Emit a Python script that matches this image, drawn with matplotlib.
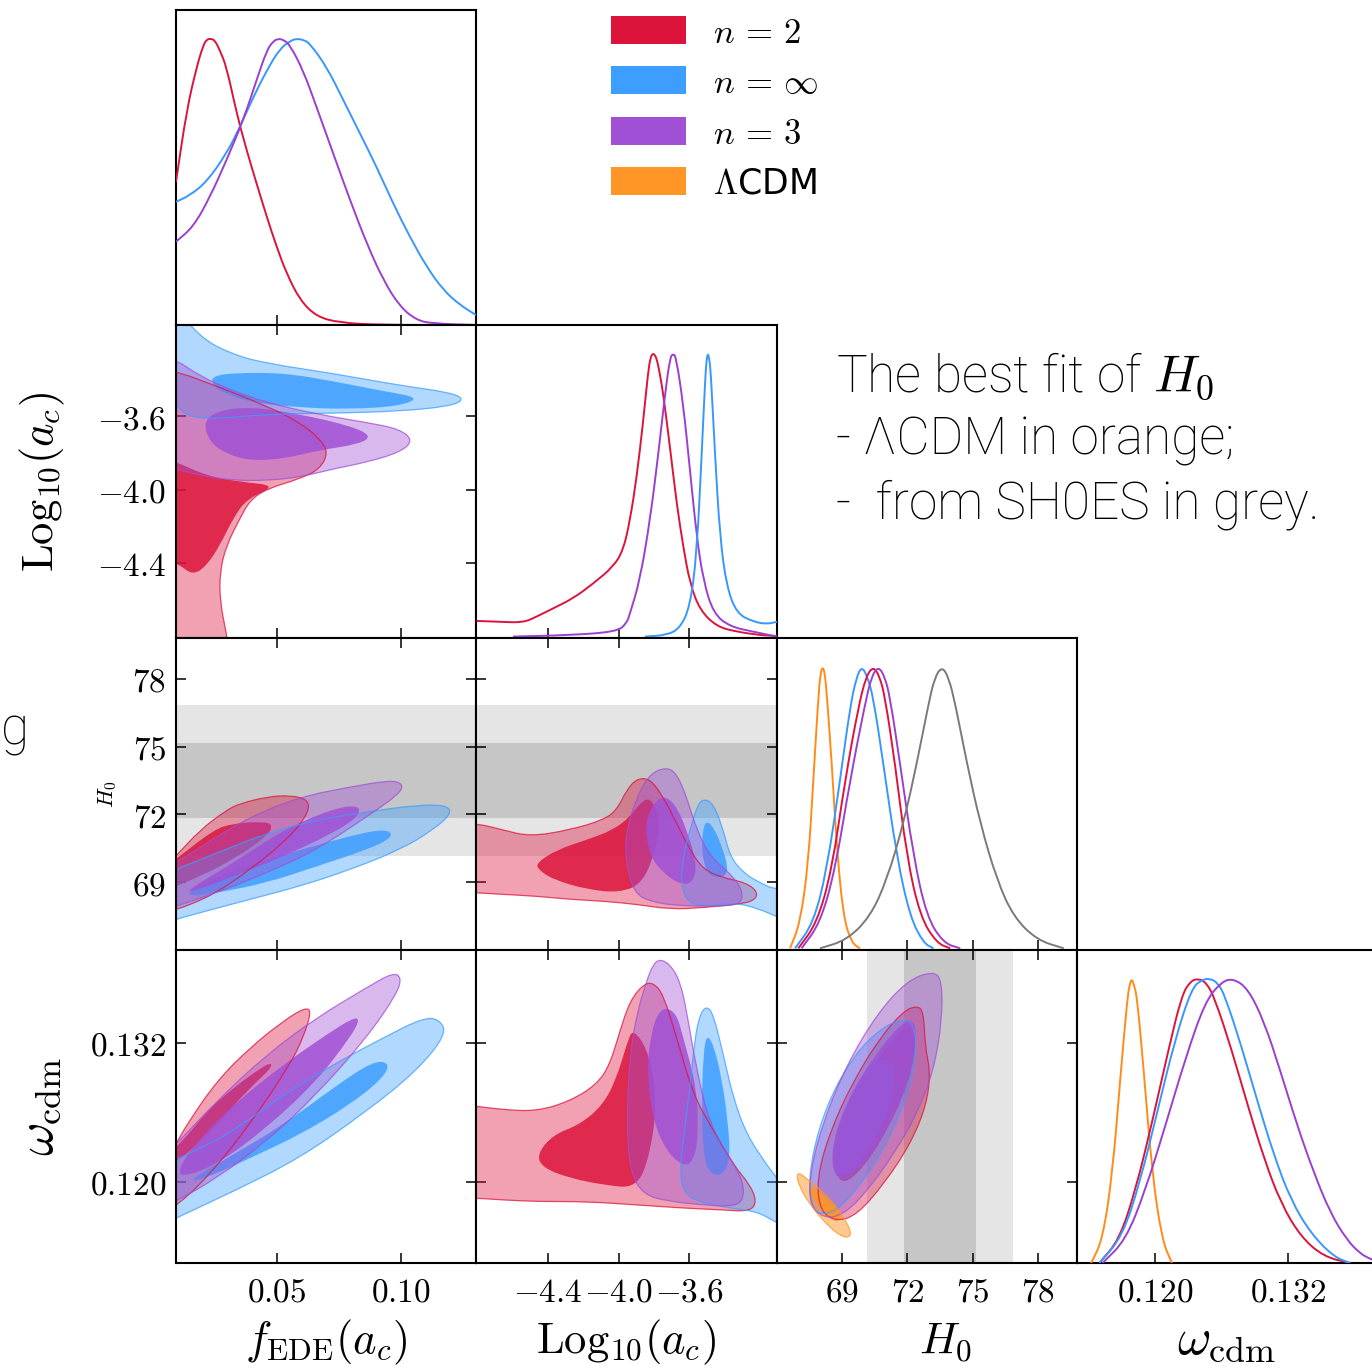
import numpy as np
import matplotlib.pyplot as plt
from matplotlib.path import Path
from matplotlib.patches import PathPatch, Rectangle
from matplotlib.colors import to_rgba

# ------------------------------------------------------------------
# Posterior data: 1D marginals as (x, normalised density) and
# 2D credible regions (95% and 68%) as boundary vertices (x, y)
# ------------------------------------------------------------------
legend_labels = [r'$n\,=\,2$', r'$n\,=\,\infty$', r'$n\,=\,3$', r'$\Lambda$CDM']

# SH0ES measurement
H0_shoes = 73.5
H0_shoes_err = 1.67

# --- 1D: f_EDE(a_c)
fede_n2 = [(0.0094, 0.50), (0.0137, 0.75), (0.0177, 0.90), (0.0204, 0.977), (0.0218, 0.997),
           (0.0234, 1.0), (0.0251, 0.994), (0.0271, 0.959), (0.0298, 0.901), (0.0339, 0.738),
           (0.0379, 0.610), (0.0419, 0.494), (0.0460, 0.378), (0.0500, 0.273), (0.0540, 0.180),
           (0.0594, 0.087), (0.0661, 0.029), (0.0755, 0.008), (0.0917, 0.0), (0.1304, 0.0)]
fede_inf = [(0.0094, 0.430), (0.0150, 0.453), (0.0218, 0.50), (0.0298, 0.599), (0.0352, 0.692),
            (0.0406, 0.796), (0.0460, 0.889), (0.0513, 0.965), (0.0555, 0.992), (0.0581, 1.0),
            (0.0610, 0.995), (0.0634, 0.983), (0.0702, 0.901), (0.0769, 0.785), (0.0836, 0.669),
            (0.0903, 0.552), (0.0970, 0.424), (0.1037, 0.308), (0.1105, 0.203), (0.1172, 0.122),
            (0.1239, 0.070), (0.1304, 0.035)]
fede_n3 = [(0.0094, 0.291), (0.0164, 0.343), (0.0231, 0.447), (0.0298, 0.576), (0.0365, 0.715),
           (0.0419, 0.855), (0.0460, 0.959), (0.0485, 0.990), (0.0506, 1.0), (0.0530, 0.995),
           (0.0554, 0.977), (0.0607, 0.889), (0.0661, 0.761), (0.0728, 0.599), (0.0796, 0.436),
           (0.0863, 0.285), (0.0930, 0.157), (0.0997, 0.064), (0.1064, 0.017), (0.1130, 0.005),
           (0.1304, 0.0)]

# --- 1D: Log10(a_c)
logac_n2 = [(-4.802, 0.060), (-4.671, 0.057), (-4.539, 0.054), (-4.463, 0.075), (-4.370, 0.104),
            (-4.257, 0.139), (-4.144, 0.191), (-4.031, 0.250), (-3.974, 0.308), (-3.936, 0.413),
            (-3.898, 0.565), (-3.861, 0.763), (-3.833, 0.938), (-3.820, 0.985), (-3.808, 1.0),
            (-3.795, 0.995), (-3.782, 0.975), (-3.765, 0.920), (-3.748, 0.857), (-3.710, 0.670),
            (-3.672, 0.471), (-3.635, 0.320), (-3.597, 0.191), (-3.541, 0.098), (-3.446, 0.040),
            (-3.333, 0.022), (-3.200, 0.010), (-3.106, 0.007)]
logac_inf = [(-3.851, 0.005), (-3.729, 0.010), (-3.654, 0.034), (-3.597, 0.110), (-3.559, 0.296),
             (-3.531, 0.646), (-3.512, 0.903), (-3.504, 0.975), (-3.497, 1.0), (-3.489, 0.985),
             (-3.480, 0.938), (-3.456, 0.646), (-3.428, 0.355), (-3.390, 0.180), (-3.333, 0.086),
             (-3.239, 0.057), (-3.164, 0.049), (-3.106, 0.057)]
logac_n3 = [(-4.596, 0.005), (-4.275, 0.010), (-4.011, 0.022), (-3.955, 0.051), (-3.936, 0.086),
            (-3.880, 0.203), (-3.823, 0.413), (-3.776, 0.646), (-3.738, 0.857), (-3.710, 0.985),
            (-3.692, 1.0), (-3.675, 0.985), (-3.635, 0.821), (-3.597, 0.588), (-3.559, 0.355),
            (-3.522, 0.203), (-3.465, 0.086), (-3.371, 0.040), (-3.239, 0.022), (-3.106, 0.005)]

# --- 1D: H0
H0_lcdm = [(66.60, 0.006), (67.06, 0.094), (67.44, 0.305), (67.67, 0.598), (67.90, 0.891),
           (68.00, 0.975), (68.10, 1.0), (68.20, 0.975), (68.29, 0.903), (68.52, 0.657),
           (68.75, 0.363), (69.05, 0.117), (69.44, 0.024), (69.82, 0.006)]
H0_inf = [(66.83, 0.006), (67.67, 0.094), (68.29, 0.281), (68.90, 0.598), (69.36, 0.856),
          (69.65, 0.960), (69.90, 1.0), (70.15, 0.965), (70.43, 0.891), (70.89, 0.657),
          (71.51, 0.328), (72.12, 0.117), (72.74, 0.024), (73.20, 0.006)]
H0_n2 = [(66.98, 0.006), (67.83, 0.094), (68.52, 0.281), (69.13, 0.598), (69.74, 0.856),
         (70.10, 0.965), (70.43, 1.0), (70.72, 0.965), (70.97, 0.891), (71.43, 0.657),
         (71.97, 0.328), (72.59, 0.117), (73.35, 0.024), (73.97, 0.006)]
H0_n3 = [(67.13, 0.006), (67.98, 0.094), (68.67, 0.281), (69.36, 0.598), (70.05, 0.868),
         (70.35, 0.965), (70.66, 1.0), (70.95, 0.965), (71.20, 0.891), (71.66, 0.657),
         (72.28, 0.328), (72.89, 0.117), (73.66, 0.024), (74.43, 0.006)]
H0_sh0es = [(67.98, 0.006), (69.21, 0.035), (70.28, 0.117), (71.05, 0.246), (71.82, 0.446),
            (72.43, 0.657), (72.97, 0.868), (73.25, 0.960), (73.59, 1.0), (73.90, 0.960),
            (74.20, 0.868), (74.74, 0.657), (75.35, 0.446), (76.12, 0.246), (76.88, 0.117),
            (77.96, 0.035), (79.19, 0.006)]

# --- 1D: omega_cdm
wcdm_lcdm = [(0.11427, 0.0), (0.11530, 0.081), (0.11620, 0.317), (0.11694, 0.670), (0.11753, 0.929),
             (0.11772, 0.975), (0.11792, 1.0), (0.11815, 0.975), (0.11842, 0.929), (0.11902, 0.670),
             (0.11976, 0.317), (0.12065, 0.081), (0.12154, 0.0)]
wcdm_n2 = [(0.11501, 0.0), (0.11679, 0.081), (0.11828, 0.258), (0.11976, 0.494), (0.12125, 0.753),
           (0.12243, 0.941), (0.12320, 0.990), (0.12392, 1.0), (0.12465, 0.985), (0.12541, 0.929),
           (0.12689, 0.753), (0.12838, 0.552), (0.12986, 0.364), (0.13134, 0.211), (0.13312, 0.093),
           (0.13521, 0.022), (0.13758, 0.0)]
wcdm_inf = [(0.11501, 0.0), (0.11709, 0.093), (0.11873, 0.293), (0.12021, 0.529), (0.12184, 0.788),
            (0.12332, 0.965), (0.12420, 0.995), (0.12496, 1.0), (0.12565, 0.985), (0.12630, 0.941),
            (0.12778, 0.764), (0.12927, 0.564), (0.13075, 0.376), (0.13223, 0.223), (0.13402, 0.105),
            (0.13610, 0.022), (0.13758, 0.0)]
wcdm_n3 = [(0.11530, 0.0), (0.11739, 0.081), (0.11917, 0.258), (0.12095, 0.482), (0.12274, 0.717),
           (0.12452, 0.918), (0.12600, 0.988), (0.12704, 1.0), (0.12838, 0.965), (0.12986, 0.847),
           (0.13134, 0.670), (0.13283, 0.482), (0.13432, 0.317), (0.13580, 0.176), (0.13729, 0.081),
           (0.13847, 0.034), (0.13925, 0.017), (0.14000, 0.005)]

# --- 2D: f_EDE vs Log10(a_c)
fL_n2_95 = [(0.003, -3.359), (0.0097, -3.357), (0.0258, -3.438), (0.0460, -3.546), (0.0594, -3.635),
            (0.0675, -3.725), (0.0708, -3.797), (0.0675, -3.887), (0.0594, -3.941), (0.0460, -3.995),
            (0.0392, -4.058), (0.0352, -4.156), (0.0298, -4.300), (0.0271, -4.444), (0.0271, -4.605),
            (0.0298, -4.785), (0.0312, -4.911), (0.003, -4.911)]
fL_n2_68 = [(0.005, -3.833), (0.0094, -3.849), (0.0219, -3.925), (0.0352, -3.957), (0.0501, -3.978),
            (0.0380, -4.049), (0.0324, -4.156), (0.0271, -4.302), (0.0219, -4.410), (0.0163, -4.464),
            (0.0110, -4.410), (0.005, -4.372)]
fL_inf_95 = [(0.0070, -2.970), (0.0191, -3.175), (0.0324, -3.267), (0.0461, -3.315), (0.0727, -3.369),
             (0.0997, -3.434), (0.1199, -3.472), (0.1259, -3.509), (0.1199, -3.547), (0.0997, -3.574),
             (0.0727, -3.585), (0.0461, -3.590), (0.0243, -3.617), (0.0138, -3.601), (0.0102, -3.547),
             (0.0070, -3.509)]
fL_inf_68 = [(0.0238, -3.420), (0.0244, -3.384), (0.0325, -3.366), (0.0527, -3.366), (0.0728, -3.411),
             (0.0930, -3.465), (0.1078, -3.500), (0.0997, -3.546), (0.0796, -3.563), (0.0594, -3.554),
             (0.0392, -3.527), (0.0271, -3.465)]
fL_n3_95 = [(0.005, -3.294), (0.0093, -3.294), (0.0191, -3.384), (0.0325, -3.465), (0.0460, -3.527),
            (0.0661, -3.590), (0.0863, -3.635), (0.0997, -3.671), (0.1051, -3.734), (0.0997, -3.797),
            (0.0863, -3.851), (0.0728, -3.887), (0.0594, -3.932), (0.0460, -3.950), (0.0325, -3.950),
            (0.0191, -3.923), (0.0093, -3.887), (0.005, -3.887)]
fL_n3_68 = [(0.0204, -3.635), (0.0258, -3.573), (0.0392, -3.549), (0.0594, -3.590), (0.0796, -3.653),
            (0.0883, -3.707), (0.0836, -3.752), (0.0661, -3.788), (0.0527, -3.833), (0.0392, -3.842),
            (0.0298, -3.806), (0.0231, -3.743)]

# --- 2D: f_EDE vs H0
fH_n2_95 = [(0.005, 69.70), (0.0093, 70.14), (0.0191, 71.31), (0.0298, 72.19), (0.0352, 72.48),
            (0.0460, 72.77), (0.0554, 72.85), (0.0634, 72.63), (0.0621, 71.89), (0.0527, 70.73),
            (0.0392, 69.56), (0.0258, 68.53), (0.0137, 67.94), (0.0093, 67.80), (0.005, 67.67)]
fH_n2_68 = [(0.005, 69.75), (0.0093, 70.00), (0.0244, 71.31), (0.0325, 71.60), (0.0446, 71.68),
            (0.0486, 71.53), (0.0460, 71.02), (0.0325, 70.00), (0.0191, 69.26), (0.0093, 68.82),
            (0.005, 68.60)]
fH_inf_95 = [(0.005, 67.14), (0.0093, 67.36), (0.0191, 67.65), (0.0392, 68.24), (0.0594, 68.82),
             (0.0796, 69.55), (0.0997, 70.43), (0.1131, 71.31), (0.1206, 72.04), (0.1185, 72.41),
             (0.1064, 72.41), (0.0863, 72.11), (0.0661, 71.75), (0.0460, 71.17), (0.0258, 70.29),
             (0.0093, 69.56), (0.005, 69.42)]
fH_inf_68 = [(0.0137, 68.53), (0.0325, 69.56), (0.0594, 70.43), (0.0863, 71.24), (0.0957, 71.31),
             (0.0964, 70.95), (0.0863, 70.43), (0.0661, 69.70), (0.0460, 68.97), (0.0258, 68.53),
             (0.0164, 68.38)]
fH_n3_95 = [(0.005, 67.73), (0.0093, 67.94), (0.0258, 68.53), (0.0460, 69.41), (0.0661, 70.43),
            (0.0863, 71.89), (0.0997, 72.92), (0.1010, 73.36), (0.0957, 73.51), (0.0796, 73.21),
            (0.0594, 72.77), (0.0392, 71.89), (0.0218, 70.73), (0.0093, 69.85), (0.005, 69.64)]
fH_n3_68 = [(0.0123, 68.53), (0.0325, 69.85), (0.0527, 71.31), (0.0728, 72.26), (0.0836, 72.41),
            (0.0829, 71.89), (0.0728, 71.17), (0.0527, 70.14), (0.0325, 69.26), (0.0191, 68.68)]

# --- 2D: f_EDE vs omega_cdm
fw_n2_95 = [(0.005, 0.1176), (0.0093, 0.11787), (0.0218, 0.12032), (0.0392, 0.12493), (0.0554, 0.13012),
            (0.0607, 0.13243), (0.0641, 0.13474), (0.0614, 0.13503), (0.0527, 0.13388), (0.0392, 0.13157),
            (0.0258, 0.12869), (0.0137, 0.12493), (0.0093, 0.12320), (0.005, 0.1222)]
fw_n2_68 = [(0.005, 0.1225), (0.0110, 0.12320), (0.0218, 0.12609), (0.0325, 0.12811), (0.0446, 0.12998),
            (0.0481, 0.13027), (0.0473, 0.12969), (0.0392, 0.12811), (0.0258, 0.12493), (0.0137, 0.12234),
            (0.0094, 0.12179), (0.005, 0.1214)]
fw_inf_95 = [(0.005, 0.1164), (0.0093, 0.11686), (0.0325, 0.11917), (0.0594, 0.12205), (0.0863, 0.12609),
             (0.1064, 0.12955), (0.1185, 0.13272), (0.1158, 0.13402), (0.1091, 0.13416), (0.0930, 0.13243),
             (0.0728, 0.13012), (0.0527, 0.12753), (0.0325, 0.12436), (0.0191, 0.12292), (0.0093, 0.12190),
             (0.005, 0.1216)]
fw_inf_68 = [(0.0137, 0.12003), (0.0325, 0.12234), (0.0527, 0.12493), (0.0728, 0.12811), (0.0889, 0.13042),
             (0.0957, 0.13027), (0.0930, 0.12897), (0.0796, 0.12666), (0.0594, 0.12407), (0.0392, 0.12205),
             (0.0218, 0.12032)]
fw_n3_95 = [(0.005, 0.1180), (0.0093, 0.11830), (0.0258, 0.12032), (0.0460, 0.12350), (0.0661, 0.12753),
            (0.0863, 0.13243), (0.0984, 0.13618), (0.1004, 0.13762), (0.0970, 0.13806), (0.0863, 0.13676),
            (0.0661, 0.13416), (0.0460, 0.13099), (0.0258, 0.12696), (0.0093, 0.12320), (0.005, 0.1224)]
fw_n3_68 = [(0.0110, 0.12032), (0.0258, 0.12147), (0.0460, 0.12465), (0.0661, 0.12869), (0.0796, 0.13243),
            (0.0836, 0.13402), (0.0809, 0.13416), (0.0702, 0.13272), (0.0527, 0.13012), (0.0325, 0.12666),
            (0.0191, 0.12378), (0.0110, 0.12147)]

# --- 2D: Log10(a_c) vs H0
LH_n2_95 = [(-4.868, 71.50), (-4.802, 71.60), (-4.652, 71.31), (-4.501, 71.02), (-4.275, 71.31),
            (-4.087, 71.75), (-4.011, 72.19), (-3.955, 73.07), (-3.898, 73.58), (-3.823, 73.58),
            (-3.748, 72.77), (-3.672, 71.60), (-3.597, 70.43), (-3.522, 69.56), (-3.409, 69.19),
            (-3.277, 68.97), (-3.211, 68.53), (-3.239, 68.16), (-3.333, 68.02), (-3.522, 67.87),
            (-3.710, 67.80), (-3.898, 68.02), (-4.087, 68.16), (-4.275, 68.24), (-4.463, 68.38),
            (-4.652, 68.46), (-4.802, 68.53), (-4.868, 68.55)]
LH_n2_68 = [(-4.463, 69.85), (-4.350, 70.43), (-4.181, 70.87), (-4.031, 71.31), (-3.936, 71.89),
            (-3.880, 72.48), (-3.823, 72.77), (-3.767, 71.89), (-3.785, 70.58), (-3.861, 68.97),
            (-3.993, 68.53), (-4.181, 68.68), (-4.370, 69.12), (-4.454, 69.56)]
LH_inf_95 = [(-3.522, 72.70), (-3.465, 72.48), (-3.409, 71.31), (-3.371, 70.14), (-3.296, 69.41),
             (-3.202, 68.97), (-3.117, 68.68), (-3.032, 68.77), (-3.032, 67.27), (-3.117, 67.50),
             (-3.202, 67.80), (-3.333, 68.09), (-3.484, 67.94), (-3.597, 68.02), (-3.644, 68.68),
             (-3.644, 69.85), (-3.597, 71.31), (-3.559, 72.33)]
LH_inf_68 = [(-3.512, 71.75), (-3.465, 71.46), (-3.409, 70.43), (-3.381, 69.56), (-3.409, 69.19),
             (-3.484, 69.26), (-3.522, 69.85), (-3.531, 70.87)]
LH_n3_95 = [(-3.729, 74.09), (-3.672, 73.80), (-3.616, 72.77), (-3.559, 71.31), (-3.484, 70.14),
            (-3.353, 69.26), (-3.296, 68.53), (-3.315, 68.02), (-3.428, 67.94), (-3.616, 67.94),
            (-3.805, 68.09), (-3.918, 68.53), (-3.964, 70.14), (-3.955, 71.31), (-3.898, 72.77),
            (-3.823, 73.80)]
LH_n3_68 = [(-3.729, 72.77), (-3.672, 72.33), (-3.616, 71.31), (-3.559, 69.85), (-3.579, 68.97),
            (-3.654, 68.90), (-3.748, 69.41), (-3.823, 70.14), (-3.851, 71.47), (-3.823, 72.19),
            (-3.776, 72.70)]

# --- 2D: Log10(a_c) vs omega_cdm
Lw_n2_95 = [(-4.87, 0.1266), (-4.802, 0.12652), (-4.652, 0.12623), (-4.463, 0.12609), (-4.275, 0.12696),
            (-4.124, 0.12839), (-4.049, 0.13012), (-3.993, 0.13301), (-3.936, 0.13561), (-3.861, 0.13704),
            (-3.805, 0.13719), (-3.748, 0.13618), (-3.672, 0.13243), (-3.579, 0.12753), (-3.484, 0.12493),
            (-3.353, 0.12147), (-3.258, 0.11974), (-3.220, 0.11830), (-3.258, 0.11744), (-3.409, 0.11758),
            (-3.616, 0.11772), (-3.898, 0.11801), (-4.181, 0.11830), (-4.463, 0.11830), (-4.652, 0.11844),
            (-4.802, 0.11859), (-4.87, 0.1186)]
Lw_n2_68 = [(-4.463, 0.12234), (-4.370, 0.12407), (-4.219, 0.12493), (-4.087, 0.12666), (-4.011, 0.12897),
            (-3.955, 0.13185), (-3.918, 0.13330), (-3.823, 0.13099), (-3.785, 0.12666), (-3.823, 0.12234),
            (-3.898, 0.11945), (-4.087, 0.11974), (-4.275, 0.12032), (-4.426, 0.12119)]
Lw_inf_95 = [(-3.503, 0.13518), (-3.465, 0.13445), (-3.409, 0.13099), (-3.353, 0.12724), (-3.277, 0.12407),
             (-3.164, 0.12147), (-3.107, 0.12032), (-3.051, 0.11945), (-3.051, 0.11599), (-3.117, 0.11657),
             (-3.220, 0.11744), (-3.371, 0.11772), (-3.559, 0.11830), (-3.635, 0.11917), (-3.654, 0.12090),
             (-3.635, 0.12378), (-3.597, 0.12811), (-3.569, 0.13243), (-3.541, 0.13445)]
Lw_inf_68 = [(-3.503, 0.13272), (-3.465, 0.13185), (-3.418, 0.12897), (-3.381, 0.12493), (-3.371, 0.12205),
             (-3.409, 0.12061), (-3.484, 0.12061), (-3.522, 0.12234), (-3.531, 0.12666), (-3.522, 0.13099)]
Lw_n3_95 = [(-3.767, 0.13921), (-3.710, 0.13877), (-3.654, 0.13734), (-3.616, 0.13474), (-3.559, 0.12955),
            (-3.484, 0.12493), (-3.371, 0.12205), (-3.296, 0.12003), (-3.296, 0.11830), (-3.371, 0.11787),
            (-3.522, 0.11801), (-3.710, 0.11830), (-3.861, 0.11888), (-3.936, 0.12090), (-3.955, 0.12523),
            (-3.936, 0.13099), (-3.898, 0.13445), (-3.842, 0.13734), (-3.805, 0.13877)]
Lw_n3_68 = [(-3.729, 0.13503), (-3.672, 0.13445), (-3.635, 0.13243), (-3.559, 0.12811), (-3.550, 0.12378),
            (-3.579, 0.12176), (-3.635, 0.12133), (-3.729, 0.12263), (-3.805, 0.12523), (-3.842, 0.12955),
            (-3.814, 0.13301), (-3.776, 0.13460)]

# --- 2D: H0 vs omega_cdm
Hw_n2_95 = [(72.43, 0.13518), (72.74, 0.13474), (72.82, 0.13157), (73.05, 0.12955), (72.89, 0.12666),
            (72.12, 0.12320), (70.89, 0.11974), (69.67, 0.11714), (68.75, 0.11657), (67.98, 0.11744),
            (67.83, 0.12032), (68.44, 0.12436), (69.51, 0.12869), (70.74, 0.13243), (71.82, 0.13474)]
Hw_n2_68 = [(72.20, 0.13358), (72.43, 0.13185), (71.97, 0.12811), (71.05, 0.12436), (69.97, 0.12119),
            (69.05, 0.11974), (68.67, 0.12090), (68.90, 0.12436), (69.82, 0.12811), (70.89, 0.13128),
            (71.74, 0.13315)]
Hw_inf_95 = [(71.82, 0.13416), (72.28, 0.13358), (72.43, 0.13157), (72.12, 0.12811), (71.20, 0.12378),
             (69.97, 0.12003), (68.75, 0.11744), (67.83, 0.11714), (67.44, 0.11859), (67.60, 0.12234),
             (68.29, 0.12666), (69.36, 0.13042), (70.59, 0.13301)]
Hw_inf_68 = [(70.89, 0.13070), (71.35, 0.13012), (71.43, 0.12839), (70.89, 0.12493), (69.97, 0.12205),
             (69.05, 0.12032), (68.59, 0.12119), (68.75, 0.12436), (69.51, 0.12782), (70.28, 0.12984)]
Hw_n3_95 = [(73.20, 0.13820), (73.59, 0.13734), (73.59, 0.13388), (73.20, 0.12955), (72.43, 0.12580),
            (71.35, 0.12234), (70.13, 0.11917), (69.05, 0.11714), (68.13, 0.11686), (67.52, 0.11801),
            (67.52, 0.12090), (68.13, 0.12523), (69.21, 0.13012), (70.59, 0.13445), (71.97, 0.13734)]
Hw_n3_68 = [(72.28, 0.13416), (72.43, 0.13243), (72.12, 0.12897), (71.20, 0.12493), (70.13, 0.12176),
            (69.05, 0.12003), (68.52, 0.12090), (68.59, 0.12378), (69.36, 0.12753), (70.43, 0.13070),
            (71.51, 0.13330)]
Hw_lcdm_95 = [(66.90, 0.12090), (67.36, 0.12032), (68.44, 0.11859), (69.21, 0.11657), (69.44, 0.11541),
              (69.13, 0.11513), (68.44, 0.11599), (67.52, 0.11801), (66.98, 0.11974)]
Hw_lcdm_68 = [(67.52, 0.11974), (68.13, 0.11888), (68.75, 0.11772), (68.98, 0.11671), (68.59, 0.11657),
              (67.98, 0.11772), (67.52, 0.11888)]

# parameter axes
param_labels = [r'$f_{\rm EDE}(a_c)$', r'${\rm Log}_{10}(a_c)$', r'$H_0$', r'$\omega_{\rm cdm}$']
param_ticks = [[0.05, 0.10], [-4.4, -4.0, -3.6], [69, 72, 75, 78], [0.120, 0.132]]
param_ticklabels = [['0.05', '0.10'], ['-4.4', '-4.0', '-3.6'], ['69', '72', '75', '78'], ['0.120', '0.132']]

# ------------------------------------------------------------------
# style
# ------------------------------------------------------------------
plt.rcParams['mathtext.fontset'] = 'cm'
plt.rcParams['axes.linewidth'] = 1.5

colors = {'n2': '#dc143c', 'inf': '#3d9eff', 'n3': '#a050d4', 'lcdm': '#ff9626'}
line_colors = {'n2': '#dc143c', 'inf': '#3897ff', 'n3': '#9a3fd0', 'lcdm': '#ff8c1a', 'shoes': '#7a7a7a'}
param_lims = [(0.0094, 0.1304), (-4.805, -3.106), (66.0, 79.8), (0.1130, 0.1400)]
label_sizes = [32, 32, 32, 37]
xlabel_centres = [0.5, 0.5, 0.563, 0.5]

marginals = {
    0: {'n2': fede_n2, 'inf': fede_inf, 'n3': fede_n3},
    1: {'n2': logac_n2, 'n3': logac_n3, 'inf': logac_inf},
    2: {'lcdm': H0_lcdm, 'inf': H0_inf, 'n2': H0_n2, 'n3': H0_n3, 'shoes': H0_sh0es},
    3: {'lcdm': wcdm_lcdm, 'n2': wcdm_n2, 'inf': wcdm_inf, 'n3': wcdm_n3},
}
regions = {
    (1, 0): {'n2': (fL_n2_95, fL_n2_68), 'inf': (fL_inf_95, fL_inf_68), 'n3': (fL_n3_95, fL_n3_68)},
    (2, 0): {'n2': (fH_n2_95, fH_n2_68), 'inf': (fH_inf_95, fH_inf_68), 'n3': (fH_n3_95, fH_n3_68)},
    (3, 0): {'n2': (fw_n2_95, fw_n2_68), 'inf': (fw_inf_95, fw_inf_68), 'n3': (fw_n3_95, fw_n3_68)},
    (2, 1): {'n2': (LH_n2_95, LH_n2_68), 'inf': (LH_inf_95, LH_inf_68), 'n3': (LH_n3_95, LH_n3_68)},
    (3, 1): {'n2': (Lw_n2_95, Lw_n2_68), 'inf': (Lw_inf_95, Lw_inf_68), 'n3': (Lw_n3_95, Lw_n3_68)},
    (3, 2): {'n2': (Hw_n2_95, Hw_n2_68), 'inf': (Hw_inf_95, Hw_inf_68), 'n3': (Hw_n3_95, Hw_n3_68),
             'lcdm': (Hw_lcdm_95, Hw_lcdm_68)},
}


def smooth_path(points, closed=False):
    """Quadratic B-spline path using the points as control vertices."""
    p = np.asarray(points, dtype=float)
    if closed:
        mid = 0.5 * (p + np.roll(p, -1, axis=0))
        verts, codes = [mid[-1]], [Path.MOVETO]
        for k in range(len(p)):
            verts += [p[k], mid[k]]
            codes += [Path.CURVE3, Path.CURVE3]
        verts.append(mid[-1])
        codes.append(Path.CLOSEPOLY)
    else:
        mid = 0.5 * (p[:-1] + p[1:])
        verts, codes = [p[0], mid[0]], [Path.MOVETO, Path.LINETO]
        for k in range(1, len(p) - 1):
            verts += [p[k], mid[k]]
            codes += [Path.CURVE3, Path.CURVE3]
        verts.append(p[-1])
        codes.append(Path.LINETO)
    return Path(verts, codes)


# ------------------------------------------------------------------
# figure layout (pixel grid of the triangle)
# ------------------------------------------------------------------
W, H = 1372, 1369
fig = plt.figure(figsize=(W / 100, H / 100), dpi=100)
col_x = [176, 476, 777, 1077]
col_w = [300, 301, 300, 300]
row_y = [10, 325, 638, 950]
row_h = [315, 313, 312, 313]

axes = {}
for i in range(4):
    for j in range(i + 1):
        axes[i, j] = fig.add_axes([col_x[j] / W, 1 - (row_y[i] + row_h[i]) / H,
                                   col_w[j] / W, row_h[i] / H])

tick_kw = dict(direction='in', length=7.5, width=1.1, labelsize=24)

# diagonal: 1D marginals
for i in range(4):
    ax = axes[i, i]
    for key, pts in marginals[i].items():
        ax.add_patch(PathPatch(smooth_path(pts), fill=False, edgecolor=line_colors[key],
                               lw=1.4, zorder=3))
    ax.set_xlim(param_lims[i])
    ax.set_ylim(0, 1.1)
    ax.set_yticks([])
    ax.set_xticks(param_ticks[i])
    ax.tick_params(axis='x', bottom=True, top=False, labelbottom=(i == 3), pad=9, **tick_kw)

# off-diagonal: credible regions
for (i, j), entries in regions.items():
    ax = axes[i, j]
    if i == 2:
        ax.axhspan(H0_shoes - 2 * H0_shoes_err, H0_shoes + 2 * H0_shoes_err, color='#e5e5e5', lw=0, zorder=0.5)
        ax.axhspan(H0_shoes - H0_shoes_err, H0_shoes + H0_shoes_err, color='#c6c6c6', lw=0, zorder=0.6)
    if j == 2:
        ax.axvspan(H0_shoes - 2 * H0_shoes_err, H0_shoes + 2 * H0_shoes_err, color='#e5e5e5', lw=0, zorder=0.5)
        ax.axvspan(H0_shoes - H0_shoes_err, H0_shoes + H0_shoes_err, color='#c6c6c6', lw=0, zorder=0.6)
    for key, (outer, inner) in entries.items():
        c = colors[key]
        a_out = 0.5 if key == 'lcdm' else 0.4
        ax.add_patch(PathPatch(smooth_path(outer, closed=True), facecolor=to_rgba(c, a_out),
                               edgecolor='none', zorder=2))
        ax.add_patch(PathPatch(smooth_path(inner, closed=True), facecolor=to_rgba(c, 0.85),
                               edgecolor='none', zorder=2))
    for key, (outer, inner) in entries.items():
        ax.add_patch(PathPatch(smooth_path(outer, closed=True), fill=False,
                               edgecolor=to_rgba(colors[key], 0.75), lw=0.9, zorder=2.2))
    ax.set_xlim(param_lims[j])
    ax.set_ylim(param_lims[i])
    ax.set_xticks(param_ticks[j])
    ax.set_yticks(param_ticks[i])
    ax.tick_params(axis='x', top=True, bottom=True, labelbottom=(i == 3), pad=9, **tick_kw)
    ax.tick_params(axis='y', left=True, right=True, labelleft=(j == 0), pad=7, **tick_kw)

# tick labels and axis titles
for j in range(4):
    ax = axes[3, j]
    ax.set_xticklabels([f'${t}$' for t in param_ticklabels[j]])
    ax.set_xlabel(param_labels[j], fontsize=label_sizes[j], va='baseline')
    ax.xaxis.set_label_coords(xlabel_centres[j], -0.29)
for i in range(1, 4):
    ax = axes[i, 0]
    ax.set_yticklabels([f'${t}$' for t in param_ticklabels[i]])
    if i == 2:
        ax.set_ylabel(param_labels[i], fontsize=16, va='baseline')
        ax.yaxis.set_label_coords(-0.21, 0.5)
    else:
        ax.set_ylabel(param_labels[i], fontsize=label_sizes[i], va='baseline')
        ax.yaxis.set_label_coords(-0.41, 0.5)

# legend
for k, (key, label) in enumerate(zip(['n2', 'inf', 'n3', 'lcdm'], legend_labels)):
    top = 16 + 50.3 * k
    fig.add_artist(Rectangle((611 / W, 1 - (top + 28) / H), 75 / W, 28 / H,
                             transform=fig.transFigure, facecolor=colors[key], edgecolor='none'))
    fig.text(713 / W, 1 - (top + 27) / H, label, fontsize=25, va='baseline', ha='left')

# note on the right
note_kw = dict(fontsize=37, family='Roboto', fontweight='light', va='baseline', ha='left')
fig.text(836 / W, 1 - 391 / H, r'The best fit of $H_0$', **note_kw)
fig.text(836 / W, 1 - 455 / H, '- \u039bCDM in orange;', **note_kw)
fig.text(836 / W, 1 - 518 / H, '-  from SH0ES in grey.', **note_kw)
fig.text(1 / W, 1 - 745 / H, 'g', **note_kw)

fig.savefig('out.png', dpi=100)
